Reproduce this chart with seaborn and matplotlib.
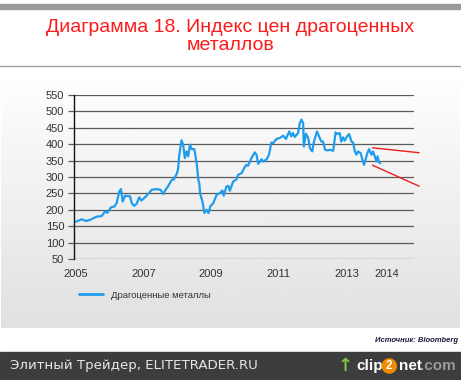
import numpy as np
import pandas as pd
import matplotlib
matplotlib.use("Agg")
import matplotlib.pyplot as plt
import seaborn as sns

# Precious metals price index (fractional years)
years = [
    2005.00, 2005.17, 2005.30, 2005.41, 2005.61, 2005.76, 2005.86, 2005.93,
    2006.03, 2006.13, 2006.20, 2006.28, 2006.33, 2006.38, 2006.45, 2006.60,
    2006.65, 2006.72, 2006.79, 2006.87, 2006.93, 2007.04, 2007.14, 2007.24,
    2007.38, 2007.50, 2007.58, 2007.65, 2007.73, 2007.83, 2007.90, 2007.98,
    2008.02, 2008.05, 2008.12, 2008.17, 2008.22, 2008.27, 2008.32, 2008.37,
    2008.42, 2008.50, 2008.57, 2008.62, 2008.65, 2008.67, 2008.74, 2008.80,
    2008.86, 2008.92, 2008.98, 2009.06, 2009.16, 2009.26, 2009.33, 2009.37,
    2009.45, 2009.51, 2009.55, 2009.65, 2009.75, 2009.80, 2009.90, 2009.99,
    2010.04, 2010.09, 2010.19, 2010.29, 2010.34, 2010.39, 2010.49, 2010.54,
    2010.64, 2010.71, 2010.78, 2010.83, 2010.93, 2011.03, 2011.13, 2011.21,
    2011.31, 2011.37, 2011.42, 2011.47, 2011.57, 2011.62, 2011.67, 2011.72,
    2011.74, 2011.80, 2011.87, 2011.92, 2011.99, 2012.04, 2012.13, 2012.21,
    2012.26, 2012.31, 2012.37, 2012.44, 2012.51, 2012.61, 2012.68, 2012.73,
    2012.80, 2012.85, 2012.90, 2012.95, 2013.02, 2013.08, 2013.15, 2013.20,
    2013.25, 2013.30, 2013.34, 2013.42, 2013.47, 2013.52, 2013.57, 2013.61,
    2013.67, 2013.74, 2013.79, 2013.84, 2013.89, 2013.92, 2013.97, 2014.00,
]
values = [
    164, 171, 166, 169, 179, 181, 195, 191,
    207, 210, 220, 256, 263, 225, 243, 241,
    220, 212, 218, 238, 228, 238, 249, 261,
    263, 261, 248, 261, 273, 291, 293, 310,
    324, 363, 412, 399, 358, 378, 363, 399,
    385, 385, 342, 291, 279, 251, 225, 190,
    200, 190, 212, 220, 246, 251, 259, 243,
    271, 273, 258, 286, 293, 307, 312, 330,
    337, 334, 358, 375, 368, 340, 354, 347,
    354, 368, 405, 403, 416, 419, 426, 416,
    439, 424, 434, 422, 434, 464, 475, 464,
    393, 432, 419, 388, 378, 408, 439, 419,
    408, 408, 383, 381, 383, 380, 436, 431,
    434, 408, 421, 411, 424, 431, 408, 405,
    378, 368, 378, 373, 354, 337, 354, 370,
    385, 368, 378, 363, 347, 363, 344, 342,
]

# red trend channel drawn by hand on the original
trend_x = [2013.77, 2015.15]
trend_upper = [389, 374]
trend_lower = [336, 272]

tick_years = [2005, 2007, 2009, 2011, 2013, 2014.2]
tick_labels = ["2005", "2007", "2009", "2011", "2013", "2014"]
y_ticks = list(range(50, 551, 50))

df = pd.DataFrame({"year": years, "value": values})

sns.set_style("white")
plt.rcParams["font.family"] = ["Liberation Sans", "DejaVu Sans"]

W, H = 461, 380
fig = plt.figure(figsize=(W / 100, H / 100), dpi=100)
fig.patch.set_facecolor("white")

# grey gradient panel behind the chart
bg = fig.add_axes([1 / W, 1 - 328 / H, 459 / W, (328 - 70) / H], zorder=0)
grad = np.linspace(1.0, 0.88, 256).reshape(-1, 1)
bg.imshow(grad, aspect="auto", cmap="gray", vmin=0, vmax=1, extent=[0, 1, 0, 1])
bg.axis("off")

# header
fig.patches.append(plt.Rectangle((0, 1 - 9 / H), 1, 5 / H, transform=fig.transFigure,
                                 color="#9a9a9a", zorder=1))
fig.lines.append(plt.Line2D([0, 1], [1 - 66 / H, 1 - 66 / H], transform=fig.transFigure,
                            color="#a0a0a0", lw=1))
fig.text(0.5, 1 - 27 / H, "Диаграмма 18. Индекс цен драгоценных", color="#ff1a1a",
         fontsize=14, ha="center", va="center")
fig.text(0.5, 1 - 45 / H, "металлов", color="#ff1a1a",
         fontsize=14, ha="center", va="center")

# main axes
ax = fig.add_axes([74 / W, 1 - 259 / H, (414 - 74) / W, (259 - 95) / H], zorder=2)
ax.set_facecolor("none")
sns.lineplot(data=df, x="year", y="value", ax=ax, color="#1f9ded", lw=1.6,
             label="Драгоценные металлы", legend=False)
ax.plot(trend_x, trend_upper, color="#ee1c1c", lw=1, clip_on=False)
ax.plot(trend_x, trend_lower, color="#ee1c1c", lw=1, clip_on=False)

ax.set_xlim(2004.94, 2015.0)
ax.set_ylim(50, 550)
ax.set_yticks(y_ticks)
ax.set_xticks(tick_years)
ax.set_xticklabels(tick_labels)
ax.yaxis.grid(True, color="#5a5a5a", lw=0.9)
ax.set_axisbelow(True)
for s in ["top", "right", "bottom"]:
    ax.spines[s].set_visible(False)
ax.spines["left"].set_color("#111111")
ax.spines["left"].set_linewidth(1)
ax.tick_params(axis="y", length=4, width=0.9, color="#5a5a5a", labelsize=8,
               labelcolor="#333333", pad=3, left=True)
ax.tick_params(axis="x", length=0, labelsize=8, labelcolor="#333333", pad=7)
ax.set_xlabel("")
ax.set_ylabel("")

# legend
handle = plt.Line2D([], [], color="#1f9ded", lw=2)
fig.legend([handle], ["Драгоценные металлы"], loc="center left",
           bbox_to_anchor=(70 / W, 1 - 295 / H), frameon=False, fontsize=6.8,
           handlelength=2.6, labelcolor="#333333")

fig.text(458 / W, 1 - 340 / H, "Источник: Bloomberg", fontsize=5.5, style="italic",
         weight="bold", color="#1a1a3a", ha="right", va="center")

# footer bar
fig.patches.append(plt.Rectangle((0, 0), 1, (380 - 352) / H, transform=fig.transFigure,
                                 color="#3d3d3d", zorder=1))
fig.text(10 / W, 1 - 366 / H, "Элитный Трейдер, ELITETRADER.RU", color="#e6e6e6",
         fontsize=9.6, ha="left", va="center", family=["DejaVu Sans"])
fig.text(338 / W, 1 - 366 / H, "\u2191", color="#7cc242", fontsize=13, weight="bold",
         ha="left", va="center", family=["DejaVu Sans"])
fig.text(356 / W, 1 - 366 / H, "clip", color="white", fontsize=11, weight="bold",
         ha="left", va="center")
fig.text(386 / W, 1 - 366 / H, "2", color="white", fontsize=8.5, weight="bold",
         ha="left", va="center",
         bbox=dict(boxstyle="circle,pad=0.15", fc="#f08a00", ec="none"))
fig.text(399 / W, 1 - 366 / H, "net", color="white", fontsize=11, weight="bold",
         ha="left", va="center")
fig.text(420 / W, 1 - 366 / H, ".com", color="#9a9a9a", fontsize=11, weight="bold",
         ha="left", va="center")

fig.savefig("out.png", dpi=100)
